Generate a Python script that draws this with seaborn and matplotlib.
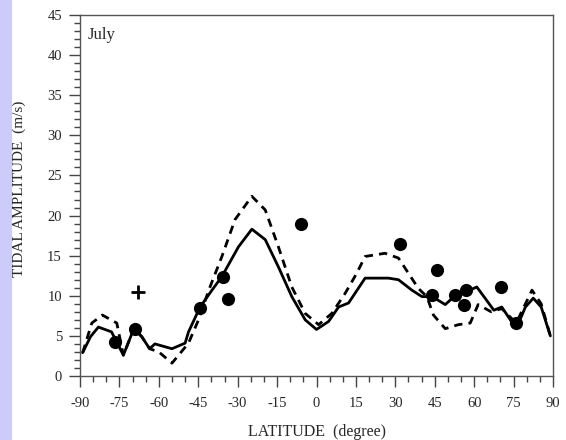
import matplotlib
matplotlib.use("Agg")
import matplotlib.pyplot as plt
from matplotlib.ticker import MultipleLocator
from matplotlib.patches import Rectangle
import seaborn as sns
import pandas as pd

# Solid model curve
solid_lat = [-89, -86, -83, -78, -73.5, -69.5, -66.5, -63.5, -61.5, -55, -50, -48.7, -44.3,
             -40, -36, -29.7, -24.6, -19.5, -14.5, -9.4, -4.3, 0, 4.6, 8.4, 12.2, 18.5,
             27.4, 31.2, 36.3, 40.1, 44, 49, 53, 57, 61, 67.5, 70.5, 76, 79.5, 82.5, 85.5, 89]
solid_amp = [2.9, 4.9, 6.1, 5.5, 2.6, 5.9, 4.9, 3.4, 4.0, 3.4, 4.1, 5.5, 8.6,
             10.6, 12.4, 16.1, 18.3, 17.0, 13.6, 9.9, 7.0, 5.8, 6.8, 8.6, 9.1, 12.2,
             12.2, 12.0, 10.7, 9.9, 9.9, 8.9, 10.1, 10.5, 11.1, 8.2, 8.6, 5.9, 8.6, 9.7, 8.6, 5.0]

# Dashed model curve
dash_lat = [-89, -85.5, -81.5, -76, -73.5, -69.5, -66.5, -63.5, -60, -55, -48.7, -44.9, -41,
            -36, -31, -24.6, -19.5, -14.5, -9.4, -4.3, 0.8, 5.8, 10.9, 15.3, 18.5, 26.1,
            31.2, 35, 38.8, 42, 44.5, 49, 54, 58.5, 61.5, 66.5, 70.5, 76, 82, 85.5, 89]
dash_amp = [2.9, 6.6, 7.6, 6.6, 2.6, 5.9, 4.9, 3.4, 3.0, 1.6, 4.1, 7.0, 10.7,
            14.9, 19.5, 22.4, 20.7, 16.1, 11.1, 7.8, 6.4, 7.8, 10.3, 12.8, 14.9, 15.3,
            14.7, 12.8, 10.9, 9.9, 7.6, 5.9, 6.4, 6.6, 8.9, 8.0, 8.4, 6.6, 10.7, 9.0, 5.0]

# Observations (filled circles)
obs_lat = [-76.5, -69, -44.3, -35.6, -33.7, -6, 31.6, 43.9, 45.8, 52.8, 56.8, 56, 70.3, 76]
obs_amp = [4.3, 5.9, 8.5, 12.3, 9.6, 19.0, 16.5, 10.1, 13.2, 10.1, 10.7, 8.9, 11.1, 6.6]

# Single "+" observation
plus_lat = [-68]
plus_amp = [10.5]

x_ticks = [-90, -75, -60, -45, -30, -15, 0, 15, 30, 45, 60, 75, 90]
y_ticks = [0, 5, 10, 15, 20, 25, 30, 35, 40, 45]

sns.set_theme(style="ticks")
plt.rcParams['font.family'] = ['Liberation Serif', 'DejaVu Serif']

fig = plt.figure(figsize=(5.66, 4.4), dpi=100)
fig.patches.append(Rectangle((0, 0), 12 / 566, 1, transform=fig.transFigure,
                             facecolor="#ccccfa", edgecolor="none", zorder=-5))
ax = fig.add_axes([80 / 566, 1 - 376 / 440, (553 - 80) / 566, (376 - 15) / 440])

df_s = pd.DataFrame({"lat": solid_lat, "amp": solid_amp})
df_d = pd.DataFrame({"lat": dash_lat, "amp": dash_amp})
df_o = pd.DataFrame({"lat": obs_lat, "amp": obs_amp})
df_p = pd.DataFrame({"lat": plus_lat, "amp": plus_amp})

sns.lineplot(data=df_s, x="lat", y="amp", ax=ax, color="black", lw=2.0, sort=False)
sns.lineplot(data=df_d, x="lat", y="amp", ax=ax, color="black", lw=2.0, sort=False,
             linestyle=(0, (3, 2.2)))
sns.scatterplot(data=df_o, x="lat", y="amp", ax=ax, color="black", s=90,
                edgecolor="black", linewidth=0, zorder=5)
sns.scatterplot(data=df_p, x="lat", y="amp", ax=ax, color="black", marker="+", s=90,
                linewidth=2.0, zorder=5)

ax.set_xlim(-90, 90)
ax.set_ylim(0, 45)
ax.set_xticks(x_ticks)
ax.set_yticks(y_ticks)
ax.set_xticklabels([str(t) for t in x_ticks])
ax.xaxis.set_minor_locator(MultipleLocator(5))
ax.yaxis.set_minor_locator(MultipleLocator(1))
ax.tick_params(axis="both", which="major", direction="out", length=8, width=1,
               labelsize=10.5, color="#444444")
ax.tick_params(axis="x", which="major", pad=7)
ax.tick_params(axis="y", which="major", pad=5)
ax.tick_params(axis="both", which="minor", direction="out", length=4.3, width=1,
               color="#444444")
ax.tick_params(top=False, right=False)
for sp in ax.spines.values():
    sp.set_color("#555555")
    sp.set_linewidth(1.0)

ax.set_xlabel("LATITUDE  (degree)", fontsize=11.5, labelpad=10)
ax.set_ylabel("TIDAL AMPLITUDE  (m/s)", fontsize=11)
ax.yaxis.set_label_coords(-0.114, 0.518)
ax.text(0.017, 0.967, "July", transform=ax.transAxes, fontsize=12, va="top", ha="left")

fig.savefig("out.png", dpi=100)
